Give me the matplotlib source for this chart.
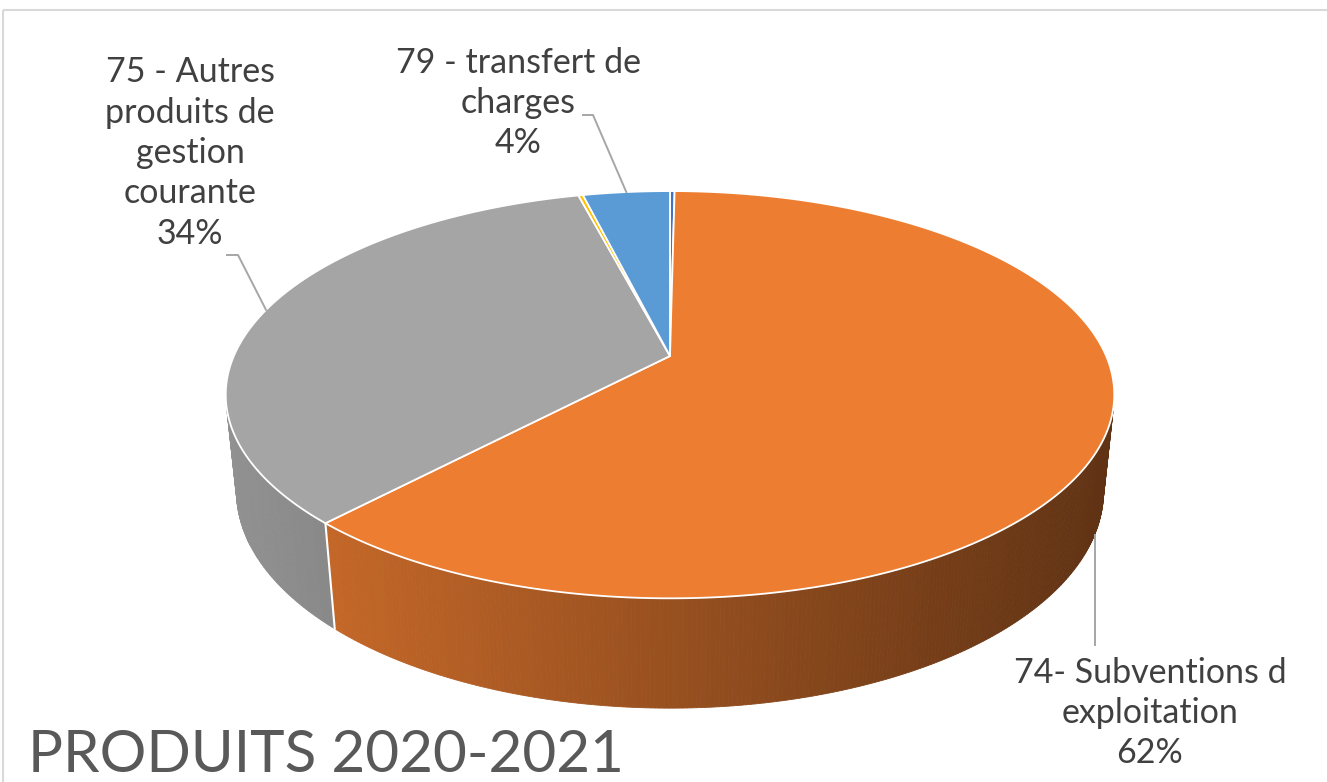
import numpy as np
import matplotlib
matplotlib.use("Agg")
import matplotlib.pyplot as plt
from matplotlib.patches import Polygon, Rectangle

# =============================================================================
# DATA (order = Excel series order, clockwise from 12h)
# =============================================================================
categories = ["70 - Ventes", "74- Subventions d exploitation",
              "75 - Autres produits de gestion courante",
              "76 - Produits financiers", "79 - transfert de charges"]
values = [0.2, 61.7, 34.1, 0.2, 3.8]
colors = ["#4472C4", "#ED7D31", "#A5A5A5", "#FFC000", "#5B9BD5"]
label_text = [None, "74- Subventions d\nexploitation\n62%",
              "75 - Autres\nproduits de\ngestion\ncourante\n34%",
              None, "79 - transfert de\ncharges\n4%"]
title = "PRODUITS 2020-2021"

# =============================================================================
# 3D PIE GEOMETRY (simple perspective camera)
# =============================================================================
S, C = 0.45, np.sqrt(1 - 0.45 ** 2)   # sin / cos of view elevation
DIST = 4.7                            # camera distance (disc radius = 1)
FOC = 2050.0                          # focal length in pixels
THICK = 0.25                          # disc thickness
CX, CY = 670, 356                     # screen position of the pie centre


def project(x, y, z):
    vy = y + DIST * C
    vz = z - DIST * S
    depth = vy * C - vz * S
    sy = vy * S + vz * C
    return CX + FOC * x / depth, CY - FOC * sy / depth


def rim(phi, z=0.0):
    # phi in degrees, measured clockwise from the far point (12 o'clock)
    r = np.radians(phi)
    return project(np.sin(r), np.cos(r), z)


def shade(hex_color, xpix):
    f = np.clip(0.88 - 0.48 * (xpix - 230) / 883, 0.38, 0.9)
    rgb = np.array(matplotlib.colors.to_rgb(hex_color))
    return tuple(rgb * f)


fig = plt.figure(figsize=(13.27, 7.82), dpi=100)
ax = fig.add_axes([0, 0, 1, 1])
ax.set_xlim(0, 1327)
ax.set_ylim(782, 0)
ax.axis("off")

# chart frame
ax.add_patch(Rectangle((3, 10), 1400, 900, fill=False, ec="#d9d9d9", lw=1.5))

bounds = np.concatenate([[0], np.cumsum(values)]) / sum(values) * 360.0

# visible part of the outer wall
lim = np.degrees(np.arccos(-1.0 / (DIST * C)))
vis0, vis1 = lim, 360 - lim

# side walls
for i, col in enumerate(colors):
    a0, a1 = max(bounds[i], vis0), min(bounds[i + 1], vis1)
    if a1 <= a0:
        continue
    ph = np.linspace(a0, a1, max(int((a1 - a0) * 2), 2))
    for p0, p1 in zip(ph[:-1], ph[1:]):
        pts = [rim(p0), rim(p1), rim(p1, -THICK), rim(p0, -THICK)]
        xm = np.mean([p[0] for p in pts])
        fc = shade(col, xm)
        ax.add_patch(Polygon(pts, closed=True, fc=fc, ec=fc, lw=0.6))
    # white separator where two wall pieces meet
    if bounds[i] > vis0:
        ax.plot(*zip(rim(bounds[i]), rim(bounds[i], -THICK)), color="white", lw=1.5)

# top faces
for i, col in enumerate(colors):
    ph = np.linspace(bounds[i], bounds[i + 1], max(int((bounds[i + 1] - bounds[i]) * 2), 2))
    pts = [(CX, CY)] + [rim(p) for p in ph]
    ax.add_patch(Polygon(pts, closed=True, fc=col, ec="white", lw=1.3, joinstyle="round"))

# =============================================================================
# LABELS AND LEADER LINES
# =============================================================================
lab_font = dict(family=["Lato", "DejaVu Sans"], size=24.5, color="#404040",
                ha="center", va="center", linespacing=1.32)
lead = dict(color="#a6a6a6", lw=1.4)

# 75 - gray slice
mid = (bounds[2] + bounds[3]) / 2
ax.text(190, 153, label_text[2], **lab_font)
ax.plot(*zip((227, 255), (238, 255), rim(mid)), **lead)

# 79 - blue slice
mid = (bounds[4] + bounds[5]) / 2
ax.text(518, 103, label_text[4], **lab_font)
ax.plot(*zip((583, 115), (593, 115), rim(mid)), **lead)

# 74 - orange slice (anchored on the lower rim)
mid = (bounds[1] + bounds[2]) / 2
ax.text(1150, 713, label_text[1], **lab_font)
bx, by = rim(mid, -THICK)
ax.plot([bx, bx], [by, 645], **lead)

ax.text(28, 772, title, family=["Lato", "DejaVu Sans"], weight="normal",
        size=42, color="#595959", ha="left", va="baseline")

fig.savefig("out.png", dpi=100)
